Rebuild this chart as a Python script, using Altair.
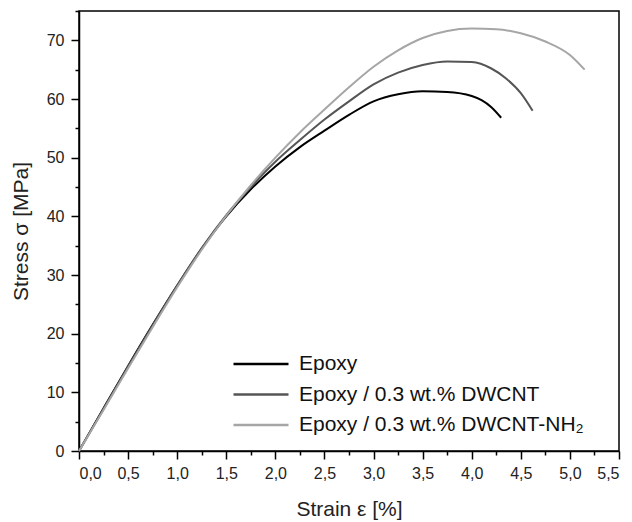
import altair as alt
import pandas as pd

series = ["Epoxy", "Epoxy / 0.3 wt.% DWCNT", "Epoxy / 0.3 wt.% DWCNT-NH₂"]
colors = ["#000000", "#555555", "#a6a6a6"]

epoxy_strain = [0, 0.25, 0.5, 0.75, 1.0, 1.25, 1.5, 1.75, 2.0, 2.25, 2.5, 2.75,
                3.0, 3.25, 3.5, 3.75, 4.0, 4.1, 4.2, 4.3]
epoxy_stress = [0, 7.3, 14.5, 21.5, 28.2, 34.5, 40.0, 44.6, 48.5, 51.8, 54.6, 57.3,
                59.6, 60.8, 61.3, 61.2, 60.5, 59.8, 58.6, 56.8]

dwcnt_strain = [0, 0.25, 0.5, 0.75, 1.0, 1.25, 1.5, 1.75, 2.0, 2.25, 2.5, 2.75,
                3.0, 3.25, 3.5, 3.75, 4.0, 4.2, 4.35, 4.5, 4.62]
dwcnt_stress = [0, 7.2, 14.4, 21.4, 28.2, 34.6, 40.2, 45.0, 49.3, 53.0, 56.5, 59.6,
                62.5, 64.5, 65.8, 66.4, 66.3, 65.2, 63.5, 61.0, 58.0]

nh2_strain = [0, 0.25, 0.5, 0.75, 1.0, 1.25, 1.5, 1.75, 2.0, 2.25, 2.5, 2.75,
              3.0, 3.25, 3.5, 3.75, 4.0, 4.25, 4.5, 4.75, 5.0, 5.15]
nh2_stress = [0, 7.0, 14.1, 21.1, 27.9, 34.3, 40.1, 45.3, 50.0, 54.3, 58.2, 62.0,
              65.5, 68.3, 70.4, 71.6, 72.0, 71.9, 71.2, 69.8, 67.5, 65.0]

x_ticks = [i * 0.25 for i in range(23)]
y_ticks = [i * 5 for i in range(16)]

rows = []
for name, xs, ys in zip(series, [epoxy_strain, dwcnt_strain, nh2_strain],
                        [epoxy_stress, dwcnt_stress, nh2_stress]):
    for xv, yv in zip(xs, ys):
        rows.append({"series": name, "strain": xv, "stress": yv})
df = pd.DataFrame(rows)

FONT = "Liberation Sans"

chart = alt.Chart(df).mark_line(strokeWidth=2, interpolate="monotone").encode(
    x=alt.X("strain:Q",
            scale=alt.Scale(domain=[0, 5.5], nice=False, zero=False),
            axis=alt.Axis(values=x_ticks, title="Strain ε [%]",
                          labelExpr="datum.value % 0.5 == 0 ? replace(format(datum.value, '.1f'), '.', ',') : ''",
                          tickSize={"condition": {"test": "datum.value % 0.5 == 0", "value": 8}, "value": 4},
                          labelOverlap=False, labelPadding=6, titlePadding=17)),
    y=alt.Y("stress:Q",
            scale=alt.Scale(domain=[0, 75], nice=False),
            axis=alt.Axis(values=y_ticks, title="Stress σ [MPa]",
                          labelExpr="datum.value % 10 == 0 ? datum.label : ''",
                          tickSize={"condition": {"test": "datum.value % 10 == 0", "value": 8}, "value": 4},
                          labelOverlap=False, labelPadding=7, titlePadding=15)),
    color=alt.Color("series:N",
                    scale=alt.Scale(domain=series, range=colors),
                    legend=alt.Legend(title=None, orient="none", legendX=171.5, legendY=342.5,
                                      symbolType="M-5.5,0H5.5", symbolStrokeWidth=2.4,
                                      symbolSize=100, labelFontSize=21, labelFont=FONT,
                                      labelColor="#111", labelOffset=27.5, rowPadding=8.5,
                                      padding=0, labelLimit=500)),
).properties(
    width=540, height=440,
    padding={"left": 79, "top": 11, "right": 13, "bottom": 71},
    autosize=alt.AutoSizeParams(type="none"),
).configure_view(
    stroke="black", strokeWidth=1.5
).configure_axis(
    domainColor="black", domainWidth=1.5, tickColor="black", tickWidth=1.5,
    labelFont=FONT, labelFontSize=16, labelColor="#222",
    titleFont=FONT, titleFontSize=21, titleFontWeight="normal", titleColor="#222",
    grid=False,
)

chart.save("out.html", embed_options={"renderer": "svg", "actions": False})
